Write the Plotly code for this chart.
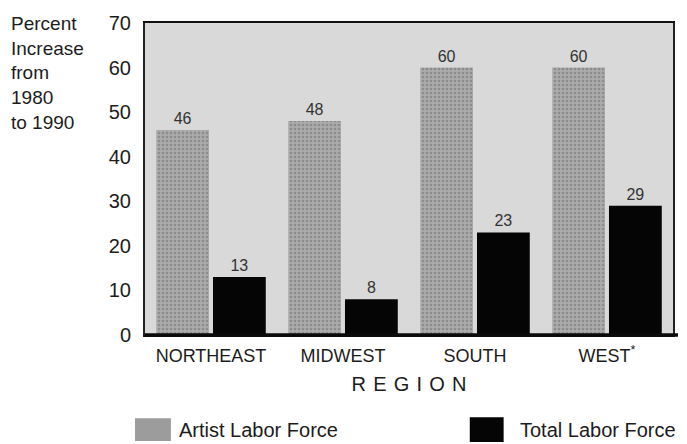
import plotly.graph_objects as go

regions = ["NORTHEAST", "MIDWEST", "SOUTH", "WEST<sup>*</sup>"]
artist_labor = [46, 48, 60, 60]
total_labor = [13, 8, 23, 29]
y_ticks = [0, 10, 20, 30, 40, 50, 60, 70]

FONT = "Liberation Sans, Arial, sans-serif"
TXT = "#1c1c1c"

L, R, T, B = 145, 12, 20, 109
W, H = 687, 444
PW, PH = W - L - R, H - T - B


def px(x):
    return (x - L) / PW


def py(y):
    return (H - B - y) / PH


fig = go.Figure()
fig.add_trace(go.Bar(
    x=regions, y=artist_labor, name="Artist Labor Force",
    marker=dict(color="#9c9c9c", line=dict(width=0),
                pattern=dict(shape=".", fgcolor="#6e6e6e", bgcolor="#ababab", size=4, solidity=0.35)),
    text=artist_labor, textposition="outside",
    textfont=dict(family=FONT, size=16, color="#333333"),
    cliponaxis=False,
))
fig.add_trace(go.Bar(
    x=regions, y=total_labor, name="Total Labor Force",
    marker=dict(color="#050505", line=dict(width=0)),
    text=total_labor, textposition="outside",
    textfont=dict(family=FONT, size=16, color="#333333"),
    cliponaxis=False,
))

hs = "\u00a0\u200a"
fig.update_layout(
    width=W, height=H,
    margin=dict(l=L, r=R, t=T, b=B),
    paper_bgcolor="white",
    plot_bgcolor="#d9d9d9",
    barmode="group", bargap=0.14, bargroupgap=0.07,
    showlegend=False,
    font=dict(family=FONT, color=TXT),
    xaxis=dict(
        tickfont=dict(size=18, color=TXT),
        showline=True, linecolor="#111111", linewidth=2, mirror=True,
        ticks="", ticklabelstandoff=3,
        title=dict(text=hs.join("REGION"), font=dict(size=20, color=TXT), standoff=12),
        showgrid=False,
    ),
    yaxis=dict(
        range=[0, 70], tickvals=y_ticks,
        tickfont=dict(size=20, color=TXT),
        showline=True, linecolor="#222222", linewidth=2, mirror=True,
        ticks="", ticklabelstandoff=8,
        showgrid=False, zeroline=False,
    ),
)

# heavier baseline along the bottom of the plot frame
fig.add_shape(type="line", xref="paper", yref="paper", x0=0, x1=px(680), y0=0, y1=0,
              line=dict(color="#0a0a0a", width=3.5))

# Y-axis title (stacked text at top-left)
fig.add_annotation(
    xref="paper", yref="paper", x=px(8), y=py(8), xanchor="left", yanchor="top",
    text="Percent<br>Increase<br>from<br>1980<br>to 1990", align="left",
    showarrow=False, font=dict(size=19, color=TXT),
)

# Legend drawn as swatches + labels
fig.add_shape(type="rect", xref="paper", yref="paper",
              x0=px(135), x1=px(171), y0=py(442), y1=py(419),
              fillcolor="#9c9c9c", line=dict(width=0))
fig.add_annotation(xref="paper", yref="paper", x=px(177), y=py(431),
                   xanchor="left", yanchor="middle", showarrow=False,
                   text="Artist Labor Force", font=dict(size=20, color=TXT))
fig.add_shape(type="rect", xref="paper", yref="paper",
              x0=px(471), x1=px(505), y0=py(443), y1=py(418),
              fillcolor="#050505", line=dict(width=0))
fig.add_annotation(xref="paper", yref="paper", x=px(519), y=py(431),
                   xanchor="left", yanchor="middle", showarrow=False,
                   text="Total Labor Force", font=dict(size=20, color=TXT))

fig.write_html("out.html", config={"displayModeBar": False},
               post_script="document.body.style.margin='0';document.body.style.overflow='hidden';")
